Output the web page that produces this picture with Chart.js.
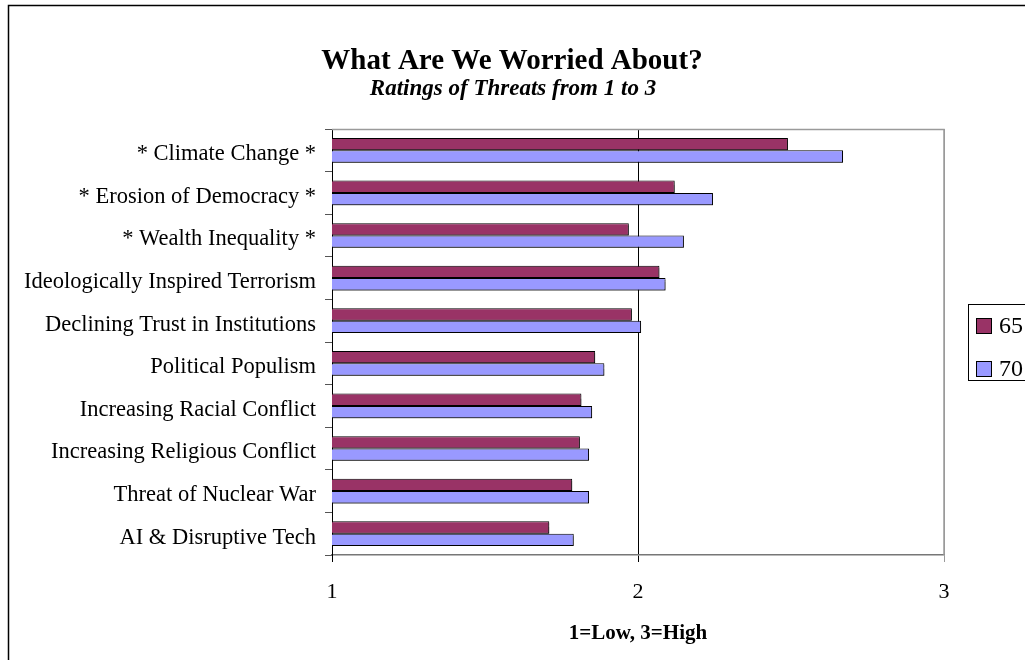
<!DOCTYPE html>
<html>
<head>
<meta charset="utf-8">
<title>What Are We Worried About?</title>
<script src="https://cdn.jsdelivr.net/npm/chart.js@4.4.1/dist/chart.umd.min.js"></script>
<style>
  html, body { margin: 0; padding: 0; background: #fff; }
  #wrap { width: 1025px; height: 660px; position: relative; }
</style>
</head>
<body>
<div id="wrap"><canvas id="chart-threats" width="1025" height="660"></canvas></div>
<script>
const threatLabels = [
  "* Climate Change *",
  "* Erosion of Democracy *",
  "* Wealth Inequality *",
  "Ideologically Inspired Terrorism",
  "Declining Trust in Institutions",
  "Political Populism",
  "Increasing Racial Conflict",
  "Increasing Religious Conflict",
  "Threat of Nuclear War",
  "AI & Disruptive Tech",
];
const ratings65 = [2.49, 2.12, 1.97, 2.07, 1.98, 1.86, 1.815, 1.81, 1.785, 1.71];
const ratings70 = [2.67, 2.245, 2.15, 2.09, 2.01, 1.89, 1.85, 1.84, 1.84, 1.79];
const seriesNames = ["65", "70"];
const xTicks = [1, 2, 3];

const SERIF = "'Liberation Serif', 'Times New Roman', serif";
const PLOT = { left: 332, right: 944, top: 129, bottom: 555 };

// frame, titles, plot border and legend
const decorations = {
  id: "decorations",
  beforeDraw(chart) {
    const ctx = chart.ctx;
    ctx.save();
    ctx.fillStyle = "#fff";
    ctx.fillRect(0, 0, chart.width, chart.height);
    ctx.strokeStyle = "#000";
    ctx.lineWidth = 1.5;
    ctx.strokeRect(8.5, 5.5, 1200, 800);
    ctx.restore();
  },
  afterDraw(chart) {
    const ctx = chart.ctx;
    const area = chart.chartArea;
    ctx.save();

    // top and right edges of the plot
    ctx.strokeStyle = "#9a9a9a";
    ctx.lineWidth = 1.5;
    ctx.beginPath();
    ctx.moveTo(area.left, area.top + 0.5);
    ctx.lineTo(area.right, area.top + 0.5);
    ctx.lineTo(area.right, area.bottom);
    ctx.stroke();

    ctx.fillStyle = "#000";
    ctx.textAlign = "center";
    ctx.textBaseline = "middle";
    ctx.font = "bold 29px " + SERIF;
    ctx.fillText("What Are We Worried About?", 512, 62);
    ctx.font = "italic bold 23px " + SERIF;
    ctx.fillText("Ratings of Threats from 1 to 3", 513, 89);

    // legend
    const lx = 968, ly = 304;
    ctx.strokeStyle = "#000";
    ctx.lineWidth = 1;
    ctx.strokeRect(lx + 0.5, ly + 0.5, 100, 76);
    chart.data.datasets.forEach((ds, i) => {
      const cy = ly + 22 + i * 43;
      ctx.fillStyle = ds.backgroundColor;
      ctx.fillRect(lx + 8.5, cy - 7.5, 15, 15);
      ctx.strokeStyle = "#000";
      ctx.strokeRect(lx + 8.5, cy - 7.5, 15, 15);
      ctx.fillStyle = "#000";
      ctx.textAlign = "left";
      ctx.font = "24px " + SERIF;
      ctx.fillText(ds.label, lx + 31, cy + 1);
    });
    ctx.restore();
  },
};

// soft drop shadow under the bars
const barShadow = {
  id: "barShadow",
  beforeDatasetsDraw(chart) {
    const ctx = chart.ctx;
    ctx.save();
    ctx.shadowColor = "rgba(0,0,0,0.4)";
    ctx.shadowOffsetX = 2;
    ctx.shadowOffsetY = 2;
    ctx.shadowBlur = 1;
  },
  afterDatasetsDraw(chart) {
    chart.ctx.restore();
  },
};

new Chart(document.getElementById("chart-threats"), {
  type: "bar",
  data: {
    labels: threatLabels,
    datasets: [
      {
        label: seriesNames[0],
        data: ratings65,
        backgroundColor: "#993366",
        borderColor: "#000",
        borderWidth: 1,
        categoryPercentage: 0.58,
        barPercentage: 1,
      },
      {
        label: seriesNames[1],
        data: ratings70,
        backgroundColor: "#9999ff",
        borderColor: "#000",
        borderWidth: 1,
        categoryPercentage: 0.58,
        barPercentage: 1,
      },
    ],
  },
  options: {
    indexAxis: "y",
    responsive: false,
    animation: false,
    devicePixelRatio: 1,
    layout: {
      padding: { left: 4, right: 1025 - PLOT.right, top: PLOT.top, bottom: 10 },
    },
    plugins: {
      legend: { display: false },
      tooltip: { enabled: false },
      title: { display: false },
    },
    scales: {
      x: {
        min: 1,
        max: 3,
        afterBuildTicks: (scale) => {
          scale.ticks = xTicks.map((v) => ({ value: v }));
        },
        afterFit: (scale) => {
          scale.height = 660 - PLOT.bottom - 10;
        },
        grid: {
          color: (c) => (c.tick && c.tick.value === 3 ? "#9a9a9a" : "#000"),
          lineWidth: 1,
          tickLength: 7,
        },
        border: { color: "#777", width: 1.5 },
        ticks: {
          color: "#000",
          padding: 17,
          font: { family: SERIF, size: 22 },
        },
        title: {
          display: true,
          text: "1=Low, 3=High",
          color: "#000",
          font: { family: SERIF, size: 21, weight: "bold" },
          padding: { top: 14 },
        },
      },
      y: {
        afterFit: (scale) => {
          scale.width = PLOT.left - 4;
        },
        grid: {
          offset: true,
          drawOnChartArea: false,
          tickLength: 7,
          color: "#555",
        },
        border: { color: "#000", width: 1 },
        ticks: {
          color: "#000",
          padding: 9,
          labelOffset: 4,
          autoSkip: false,
          font: { family: SERIF, size: 22.5 },
        },
      },
    },
  },
  plugins: [decorations, barShadow],
});
</script>
</body>
</html>
